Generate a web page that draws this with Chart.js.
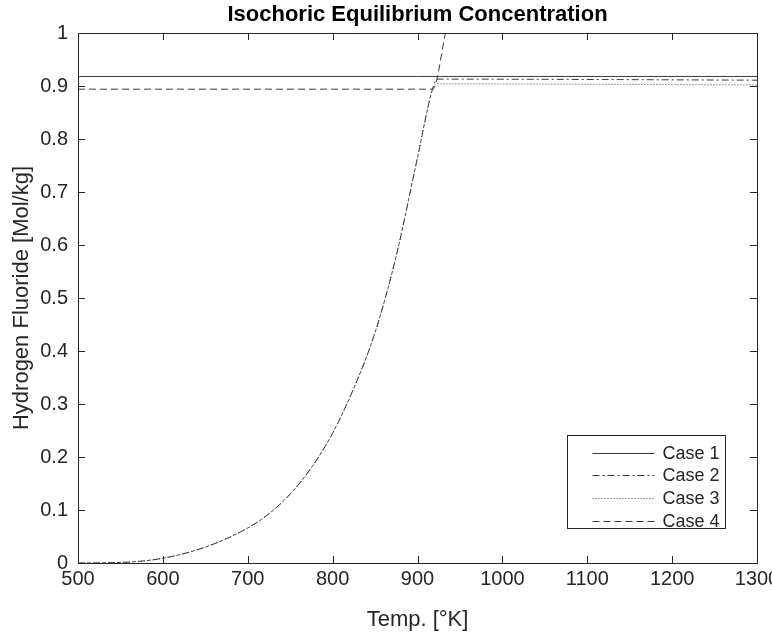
<!DOCTYPE html>
<html>
<head>
<meta charset="utf-8">
<script src="https://cdn.jsdelivr.net/npm/chart.js@4.4.1/dist/chart.umd.min.js"></script>
<style>
  html, body { margin: 0; padding: 0; background: #fff; }
  #wrap { width: 772px; height: 638px; }
</style>
</head>
<body>
<div id="wrap"><canvas id="chart" width="772" height="638"></canvas></div>
<script>
// rising part shared by the cases
const curveTemps  = [500, 550, 600, 650, 700, 725, 750, 775, 800, 825, 850, 875, 900, 918]
const curveValues = [0, 0.001, 0.009, 0.03, 0.066, 0.093, 0.13, 0.18, 0.245, 0.33, 0.435, 0.58, 0.765, 0.896]

// Case 1: flat line
const case1Temps  = [500, 1300]
const case1Values = [0.918, 0.918]

// Case 2 / 3: curve then plateau
const case2Temps  = [923, 1300]
const case2Values = [0.913, 0.911]
const case3Temps  = [923, 1300]
const case3Values = [0.904, 0.902]

// Case 4: flat dashed line, then the curve keeps going up
const case4Temps  = [500, 918, 933]
const case4Values = [0.894, 0.894, 1.0]

const xTicks = [500, 600, 700, 800, 900, 1000, 1100, 1200, 1300]
const yTicks = [0, 0.1, 0.2, 0.3, 0.4, 0.5, 0.6, 0.7, 0.8, 0.9, 1]

const chartTitle = 'Isochoric Equilibrium Concentration'

const toPoints = (xs, ys) => xs.map((x, i) => ({ x, y: ys[i] }))

const lineColor = '#3a3a3a'
const axisColor = '#262626'
const fontFamily = '"Liberation Sans", Arial, Helvetica, sans-serif'

const curvePts = toPoints(curveTemps, curveValues)
const case2Pts = curvePts.concat(toPoints(case2Temps, case2Values))
const case3Pts = curvePts.concat(toPoints(case3Temps, case3Values))

const datasets = [
    { label: 'Case 1', data: toPoints(case1Temps, case1Values), borderDash: [] },
    { label: 'Case 2', data: case2Pts, borderDash: [7, 3, 2, 3] },
    { label: 'Case 3', data: case3Pts, borderDash: [1, 2] },
    { label: 'Case 4', data: toPoints(case4Temps, case4Values), borderDash: [7, 4] }
].map(d => Object.assign(d, {
    borderColor: lineColor,
    borderWidth: 1,
    pointRadius: 0,
    fill: false,
    tension: 0,
    cubicInterpolationMode: 'monotone'
}))

// MATLAB-ish box with inward ticks, title centred over the axes, legend inside
const boxPlugin = {
    id: 'box',
    afterDatasetsDraw(chart) {
        const { ctx, chartArea: a, scales } = chart
        ctx.save()
        ctx.strokeStyle = axisColor
        ctx.lineWidth = 1
        ctx.strokeRect(Math.round(a.left) + 0.5, Math.round(a.top) + 0.5,
            Math.round(a.right - a.left), Math.round(a.bottom - a.top))
        ctx.beginPath()
        xTicks.forEach(v => {
            const px = Math.round(scales.x.getPixelForValue(v)) + 0.5
            ctx.moveTo(px, a.bottom); ctx.lineTo(px, a.bottom - 7)
            ctx.moveTo(px, a.top); ctx.lineTo(px, a.top + 7)
        })
        yTicks.forEach(v => {
            const py = Math.round(scales.y.getPixelForValue(v)) + 0.5
            ctx.moveTo(a.left, py); ctx.lineTo(a.left + 7, py)
            ctx.moveTo(a.right, py); ctx.lineTo(a.right - 7, py)
        })
        ctx.stroke()

        // title
        ctx.fillStyle = '#000'
        ctx.font = 'bold 22px ' + fontFamily
        ctx.textAlign = 'center'
        ctx.textBaseline = 'middle'
        ctx.fillText(chartTitle, (a.left + a.right) / 2, 15)

        // legend
        const w = 158, h = 93
        const lx = Math.round(a.right - 32 - w) + 0.5
        const ly = Math.round(a.bottom - 35 - h) + 0.5
        ctx.fillStyle = '#fff'
        ctx.fillRect(lx, ly, w, h)
        ctx.strokeStyle = axisColor
        ctx.strokeRect(lx, ly, w, h)
        ctx.font = '18px ' + fontFamily
        ctx.textAlign = 'left'
        chart.data.datasets.forEach((d, i) => {
            const y = Math.round(ly + 17 + i * 22.7) + 0.5
            ctx.strokeStyle = lineColor
            ctx.setLineDash(d.borderDash)
            ctx.beginPath()
            ctx.moveTo(lx + 25, y); ctx.lineTo(lx + 87, y)
            ctx.stroke()
            ctx.setLineDash([])
            ctx.fillStyle = axisColor
            ctx.fillText(d.label, lx + 95, y + 1)
        })
        ctx.restore()
    }
}

new Chart(document.getElementById('chart'), {
    type: 'line',
    data: { datasets },
    options: {
        responsive: false,
        animation: false,
        layout: { padding: { left: 4, right: 15, top: 33, bottom: 4 } },
        plugins: {
            legend: { display: false },
            tooltip: { enabled: false },
            title: { display: false }
        },
        scales: {
            x: {
                type: 'linear',
                min: 500,
                max: 1300,
                afterBuildTicks: s => { s.ticks = xTicks.map(v => ({ value: v })) },
                afterFit: s => { s.height = 638 - 563 - 4; s.paddingLeft = 0; s.paddingRight = 0 },
                ticks: {
                    color: axisColor, font: { family: fontFamily, size: 20 }, padding: 4, maxRotation: 0,
                    callback: v => String(v)
                },
                grid: { display: false, drawTicks: false },
                border: { display: false },
                title: {
                    display: true,
                    text: 'Temp. [°K]',
                    color: axisColor,
                    font: { family: fontFamily, size: 22 },
                    padding: { top: 0, bottom: 1 }
                }
            },
            y: {
                type: 'linear',
                min: 0,
                max: 1,
                afterBuildTicks: s => { s.ticks = yTicks.map(v => ({ value: v })) },
                afterFit: s => { s.width = 78 - 4; s.paddingTop = 0; s.paddingBottom = 0 },
                ticks: {
                    color: axisColor, font: { family: fontFamily, size: 20 }, padding: 10,
                    callback: v => String(v)
                },
                grid: { display: false, drawTicks: false },
                border: { display: false },
                title: {
                    display: true,
                    text: 'Hydrogen Fluoride [Mol/kg]',
                    color: axisColor,
                    font: { family: fontFamily, size: 22 },
                    padding: { top: 5, bottom: 0 }
                }
            }
        }
    },
    plugins: [boxPlugin]
})
</script>
</body>
</html>
